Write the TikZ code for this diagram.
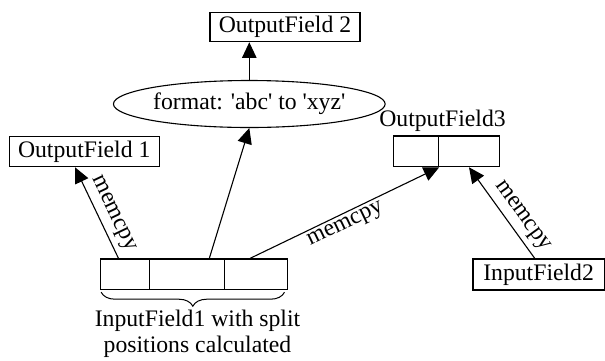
\documentclass[tikz,border=0pt]{standalone}
\usepackage{fontspec}
\setmainfont{Liberation Serif}
\usetikzlibrary{arrows.meta,shapes.geometric,decorations.pathreplacing}

\begin{document}
\begin{tikzpicture}[x=0.5pt,y=-0.5pt,
  every node/.style={font=\fontsize{11.85}{13.2}\selectfont},
  box/.style={draw,line width=0.55pt,rectangle,inner sep=0pt},
  cell/.style={draw,line width=0.55pt,rectangle,inner sep=0pt,minimum height=15.25pt},
  flow/.style={line width=0.55pt,-{Triangle[length=7.8pt,width=7.2pt]}},
  lbl/.style={sloped,inner sep=2.5pt}
]
\useasboundingbox (0,0) rectangle (605,360);

% output fields
\node[box,minimum width=75pt,minimum height=14.5pt] (of2) at (285,27.2) {OutputField 2};
\node[draw,line width=0.55pt,ellipse,inner sep=0pt,minimum width=120pt,minimum height=23.5pt]
  (ell) at (249.3,104) {format: \textquotesingle abc\textquotesingle{} to \textquotesingle xyz\textquotesingle};
\node[box,minimum width=75.15pt,minimum height=15pt] (of1) at (84.2,151.7) {OutputField 1};

\node[anchor=base,inner sep=0pt] (of3lbl) at (442.5,126.7) {OutputField3};
\node[cell,minimum width=22.7pt,minimum height=15.35pt] (of3a) at (416,151.35) {};
\node[cell,minimum width=30.3pt,minimum height=15.35pt] (of3b) at (469,151.35) {};

% input fields
\node[cell,minimum width=24.4pt] (in1a) at (125.1,274.2) {};
\node[cell,minimum width=37.5pt] (in1b) at (187,274.2) {};
\node[cell,minimum width=31.55pt] (in1c) at (256,274.2) {};
\node[box,minimum width=65.6pt,minimum height=15.5pt] (in2) at (538.6,274.5) {InputField2};

% brace and caption under the split input
\draw[line width=0.5pt,decorate,decoration={brace,mirror,amplitude=7pt}]
  ([xshift=0.5pt,yshift=-1.1pt]in1a.south west) -- ([xshift=-1.8pt,yshift=-1.1pt]in1c.south east);
\node[anchor=base,inner sep=0pt] (cap1) at (197.5,326.7) {InputField1 with split};
\node[anchor=base,inner sep=0pt] (cap2) at (197.5,352.7) {positions calculated};

% data flow
\draw[flow] (ell.north) -- (ell.north |- of2.south);
\draw[flow] ([xshift=-3.3pt]in1a.north) -- node[lbl,above,pos=0.42] {memcpy} ([xshift=-4.6pt]of1.south);
\draw[flow] ([xshift=11.15pt]in1b.north) -- (ell.south);
\draw[flow] ([xshift=-3pt]in1c.north) -- node[lbl,below,pos=0.48,inner sep=1.5pt] {memcpy} (of3a.south east);
\draw[flow] ([xshift=-1.9pt]in2.north) -- node[lbl,above,pos=0.37] {memcpy} (of3b.south);
\end{tikzpicture}
\end{document}
